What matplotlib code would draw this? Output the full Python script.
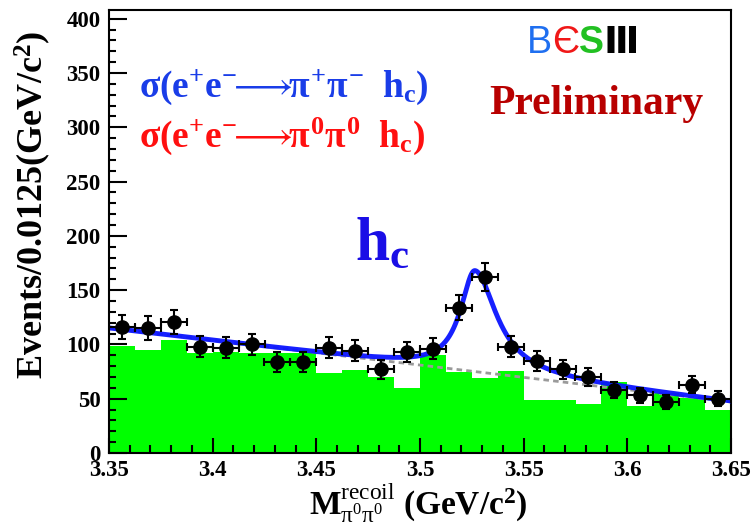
import numpy as np
import matplotlib
matplotlib.use("Agg")
import matplotlib.pyplot as plt
from matplotlib.ticker import MultipleLocator, FixedLocator
from matplotlib.offsetbox import TextArea, HPacker, AnchoredOffsetbox

# ---------------- data ----------------
bin_edges = [3.35, 3.3625, 3.375, 3.3875, 3.40, 3.4125, 3.425, 3.4375, 3.45,
             3.4625, 3.475, 3.4875, 3.50, 3.5125, 3.525, 3.5375, 3.55, 3.5625,
             3.575, 3.5875, 3.60, 3.6125, 3.625, 3.6375, 3.65]
bin_centers = [3.35625, 3.36875, 3.38125, 3.39375, 3.40625, 3.41875, 3.43125,
               3.44375, 3.45625, 3.46875, 3.48125, 3.49375, 3.50625, 3.51875,
               3.53125, 3.54375, 3.55625, 3.56875, 3.58125, 3.59375, 3.60625,
               3.61875, 3.63125, 3.64375]
events = [116, 115, 121, 98, 97, 100, 84, 84, 97, 94, 77, 93,
          96, 134, 162, 98, 85, 77, 70, 58, 53, 47, 63, 50]
pipi_hist = [98.6, 95, 104, 92, 93.4, 92, 92, 92, 73.4, 76.5, 70.3, 59.6,
             90.3, 75, 69.4, 75.9, 48.8, 48.8, 45, 65, 43.3, 55, 51, 39.6]

# fit model parameters
bkg_low, bkg_high = 115.0, 47.0          # linear background at 3.35 / 3.65
sig_mass, sig_amp = 3.5265, 93.0
sig_gamma_left, sig_gamma_right = 0.017, 0.025

x_ticks = [3.35, 3.40, 3.45, 3.50, 3.55, 3.60, 3.65]
x_ticklabels = ["3.35", "3.4", "3.45", "3.5", "3.55", "3.6", "3.65"]
y_ticks = [0, 50, 100, 150, 200, 250, 300, 350, 400]

# ---------------- style ----------------
plt.rcParams["mathtext.fontset"] = "custom"
plt.rcParams["mathtext.rm"] = "Liberation Serif:bold"
plt.rcParams["mathtext.it"] = "Liberation Serif:bold"
plt.rcParams["mathtext.bf"] = "Liberation Serif:bold"
plt.rcParams["mathtext.sf"] = "Liberation Serif"
plt.rcParams["mathtext.fallback"] = "stix"
SERIF = ["Liberation Serif", "DejaVu Serif"]

fig = plt.figure(figsize=(7.53, 5.27), dpi=100)
ax = fig.add_axes([109 / 753, 1 - 453 / 527, (731 - 109) / 753, (453 - 10) / 527])

edges = np.array(bin_edges)
ax.stairs(pipi_hist, edges, fill=True, color="#00ff00", lw=0, zorder=1)

xf = np.linspace(edges[0], edges[-1], 800)
bkg = bkg_low + (bkg_high - bkg_low) * (xf - edges[0]) / (edges[-1] - edges[0])
gam = np.where(xf < sig_mass, sig_gamma_left, sig_gamma_right)
sig = sig_amp / (1 + (2 * (xf - sig_mass) / gam) ** 2)
ax.plot(xf, bkg, color="#9a9a9a", lw=2.0, ls=(0, (2, 1.5)), zorder=2)
ax.plot(xf, bkg + sig, color="#0a14ff", lw=3.5, zorder=3, alpha=0.95)

yerr = np.sqrt(np.array(events, dtype=float))
ax.errorbar(bin_centers, events, yerr=yerr, xerr=0.00625, fmt="o", color="black",
            ms=9.5, elinewidth=1.5, capsize=3, capthick=1.5, zorder=4)

ax.set_xlim(3.35, 3.65)
ax.set_ylim(0, 408)
ax.xaxis.set_major_locator(FixedLocator(x_ticks))
ax.set_xticklabels(x_ticklabels)
ax.xaxis.set_minor_locator(MultipleLocator(0.01))
ax.yaxis.set_major_locator(FixedLocator(y_ticks))
ax.set_yticklabels([str(v) for v in y_ticks])
ax.yaxis.set_minor_locator(MultipleLocator(10))
ax.tick_params(which="both", direction="in", top=False, right=False, width=1.5)
ax.tick_params(axis="x", which="major", length=11, pad=5)
ax.tick_params(axis="x", which="minor", length=6)
ax.tick_params(axis="y", which="major", length=13, pad=6)
ax.tick_params(axis="y", which="minor", length=5)
for lab in ax.get_xticklabels() + ax.get_yticklabels():
    lab.set_fontfamily(SERIF)
    lab.set_fontweight("bold")
    lab.set_fontsize(16.5)
for s in ax.spines.values():
    s.set_linewidth(1.5)

fig.text(33 / 753, 1 - 205 / 527, r"Events/0.0125(GeV/c$^{2}$)", rotation=90,
         ha="center", va="center", fontsize=26, fontweight="bold", family=SERIF)
fig.text(418 / 753, 1 - 503 / 527,
         r"M$^{\mathsf{recoil}}_{\mathsf{\pi^{0}\pi^{0}}}$ (GeV/c$^{2}$)",
         ha="center", va="center", fontsize=24, fontweight="bold", family=SERIF)

ax.text(139 / 753, 1 - 87 / 527,
        r"$\sigma$(e$^{+}$e$^{-}$$\!\!\longrightarrow\!\!$$\pi^{+}\pi^{-}$ $\;$h$_{c}$)",
        transform=fig.transFigure, ha="left", va="center", fontsize=27,
        fontweight="bold", family=SERIF, color="#1a3de8")
ax.text(139 / 753, 1 - 136 / 527,
        r"$\sigma$(e$^{+}$e$^{-}$$\!\!\longrightarrow\!\!$$\pi^{0}\pi^{0}$ $\;$h$_{c}$)",
        transform=fig.transFigure, ha="left", va="center", fontsize=27,
        fontweight="bold", family=SERIF, color="#ff1010")
ax.text(596 / 753, 1 - 104 / 527, "Preliminary", transform=fig.transFigure,
        ha="center", va="center", fontsize=30, fontweight="bold", family=SERIF,
        color="#b80000")
ax.text(355 / 753, 1 - 245 / 527, r"h$_{c}$", transform=fig.transFigure,
        ha="left", va="center", fontsize=44, fontweight="bold", family=SERIF,
        color="#1a0ee6")

# BESIII logo
parts = [("B", "#1f6ff0", "normal"), ("Є", "#f01818", "normal"),
         ("S", "#22c022", "bold"), ("Ⅲ", "black", "bold")]
boxes = [TextArea(t, textprops=dict(color=c, fontsize=27, fontweight=w,
                                    family=["Liberation Sans", "DejaVu Sans"]))
         for t, c, w in parts]
pack = HPacker(children=boxes, align="baseline", pad=0, sep=0)
anch = AnchoredOffsetbox(loc="center", child=pack, frameon=False,
                         bbox_to_anchor=(583 / 753, 1 - 43 / 527),
                         bbox_transform=fig.transFigure, borderpad=0)
ax.add_artist(anch)

fig.savefig("out.png", dpi=100)
